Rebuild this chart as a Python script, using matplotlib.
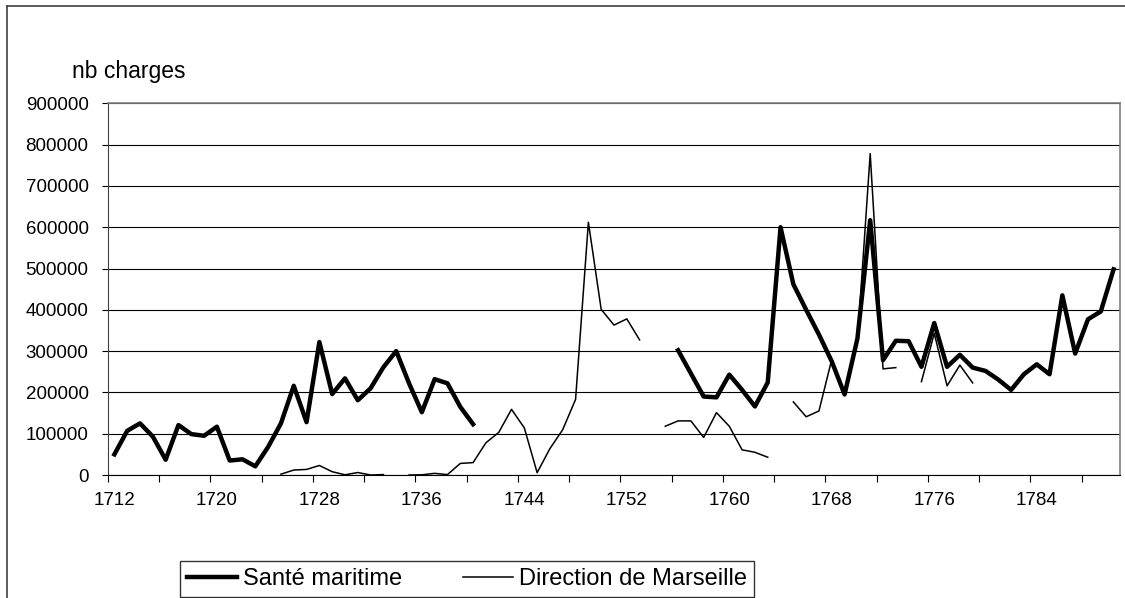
import numpy as np
import matplotlib
matplotlib.use("Agg")
import matplotlib.pyplot as plt
from matplotlib.lines import Line2D

nan = np.nan
years = list(range(1712, 1791))

# Santé maritime
sante = [50000, 107000, 125000, 93000, 37000, 121000, 99000, 95000, 117000, 35000,
         38000, 21000, 68000, 125000, 216000, 128000, 322000, 196000, 234000, 181000,
         210000, 261000, 300000, 222000, 152000, 232000, 222000, 165000, 123000] + [nan] * 15 + \
        [302000, 246000, 190000, 188000, 243000, 206000, 166000, 224000, 600000, 462000,
         400000, 340000, 275000, 195000, 330000, 617000, 278000, 325000, 324000, 262000,
         368000, 262000, 291000, 260000, 252000, 231000, 206000, 244000, 268000, 244000,
         435000, 294000, 377000, 396000, 498000]

# Direction de Marseille
direction = [nan] * 13 + \
    [2000, 12000, 13500, 23000, 8000, 500, 6000, 0, 1000, nan,
     0, 500, 4000, 1000, 28000, 30000, 78000, 103000, 159000, 114000,
     5600, 64000, 110000, 183000, 612000, 401000, 363000, 378000, 327000, nan,
     118000, 131000, 131000, 91000, 151000, 118000, 61000, 55000, 43000, nan,
     177000, 141000, 155000, 280000, 194000, 322000, 778000, 257000, 260000, nan,
     226000, 343000, 216000, 266000, 223000] + [nan] * 11

plt.rcParams['font.family'] = ['Liberation Sans', 'DejaVu Sans']

W, H = 1125, 598
fig = plt.figure(figsize=(W / 100, H / 100), dpi=100)
ax = fig.add_axes([108 / W, 1 - 475 / H, (1120 - 108) / W, (475 - 103.3) / H])

xpos = np.arange(len(years)) + 0.5
ax.plot(xpos, sante, color='black', lw=3.2, label='Santé maritime', zorder=3)
ax.plot(xpos, direction, color='black', lw=1.1, label='Direction de Marseille', zorder=4)

ax.set_xlim(0, len(years))
ax.set_ylim(0, 900000)

# y axis
ax.set_yticks(np.arange(0, 900001, 100000))
ax.set_yticklabels([str(v) for v in range(0, 900001, 100000)])
ax.yaxis.grid(True, color='black', lw=0.8)
ax.set_axisbelow(True)
ax.tick_params(axis='y', direction='out', length=4, width=0.8, pad=10, labelsize=13.5)

# x axis: marks every 4 categories, labels every 8 centred on category
ax.set_xticks(np.arange(0, len(years), 4))
ax.set_xticklabels([])
ax.set_xticks(np.arange(0, len(years), 8) + 0.5, minor=True)
ax.set_xticklabels([str(y) for y in years[::8]], minor=True)
ax.tick_params(axis='x', which='major', direction='out', length=5, width=0.8)
ax.tick_params(axis='x', which='minor', length=0, pad=12, labelsize=13.5)

for s in ['top', 'right']:
    ax.spines[s].set_color('#808080')
    ax.spines[s].set_linewidth(1.2)
ax.spines['left'].set_color('#404040')
ax.spines['bottom'].set_color('black')

fig.text(72 / W, 1 - 78 / H, 'nb charges', fontsize=16.5, ha='left', va='baseline')

# outer chart border
fig.add_artist(Line2D([7 / W, 7 / W], [0, 1 - 6 / H], color='#404040', lw=1.2))
fig.add_artist(Line2D([7 / W, 1], [1 - 6 / H, 1 - 6 / H], color='#404040', lw=1.2))

leg = fig.legend(loc='lower left', bbox_to_anchor=(180 / W, 1 / H), ncol=2,
                 fontsize=17, handlelength=2.1, handletextpad=0.25, columnspacing=2.6,
                 frameon=True, fancybox=False, borderpad=0.3, borderaxespad=0)
leg.get_frame().set_edgecolor('black')
leg.get_frame().set_linewidth(1.0)

fig.savefig('out.png', dpi=100)
